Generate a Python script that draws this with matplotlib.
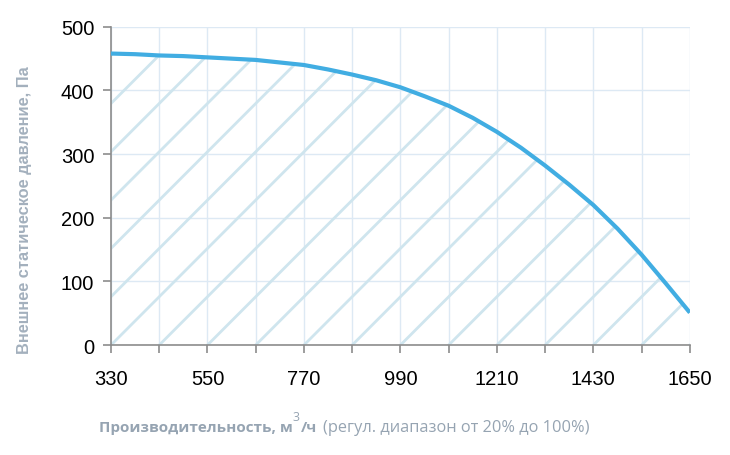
import numpy as np
import matplotlib.pyplot as plt

# данные кривой
flow = [330, 385, 440, 495, 550, 605, 660, 715, 770, 825, 880, 935, 990,
        1045, 1100, 1155, 1210, 1265, 1320, 1375, 1430, 1485, 1540, 1595, 1650]
pressure = [458, 457, 455, 454, 452, 450, 448, 444, 440, 433, 425, 416, 405,
            391, 376, 357, 335, 310, 282, 252, 220, 183, 142, 97, 51]

xticks = [330, 550, 770, 990, 1210, 1430, 1650]
yticks = [0, 100, 200, 300, 400, 500]

fig = plt.figure(figsize=(7.3, 4.56), dpi=100)
ax = fig.add_axes([0.152, 0.241, 0.793, 0.698])

ax.set_xlim(330, 1650)
ax.set_ylim(0, 500)

# сетка
ax.set_xticks(np.arange(330, 1651, 110))
ax.set_xticklabels([str(v) if v in xticks else '' for v in range(330, 1651, 110)])
ax.set_yticks(yticks)
ax.grid(True, color='#dde9f4', lw=1)
ax.set_axisbelow(True)

for s in ['top', 'right']:
    ax.spines[s].set_visible(False)
for s in ['left', 'bottom']:
    ax.spines[s].set_color('#8c8c8c')
    ax.spines[s].set_linewidth(1.2)
ax.tick_params(axis='both', colors='#8c8c8c', length=6, width=1.2, labelsize=14.5,
               labelcolor='black', pad=6)
ax.tick_params(axis='x', pad=11)
for lab in ax.get_xticklabels() + ax.get_yticklabels():
    lab.set_family('Liberation Sans')

# штриховка под кривой
poly = ax.fill_between(flow, pressure, 0, facecolor='none', edgecolor='none')
clip = poly.get_paths()[0]
slope = 0.69
xx = np.array([330, 1650])
for k in range(-8, 13):
    x0 = 330 + 110 * k
    ln, = ax.plot(xx, (xx - x0) * slope, color='#cfe5ee', lw=2, zorder=2)
    ln.set_clip_path(clip, ax.transData)

ax.plot(flow, pressure, color='#41ade2', lw=3, zorder=3,
        solid_joinstyle='round', solid_capstyle='butt')

fig.text(25 / 730, 1 - 210 / 456, 'Внешнее статическое давление, Па', color='#a3b0bd',
         fontsize=11.8, family='Liberation Sans', fontweight='bold', rotation=90,
         ha='center', va='center')

# подпись оси X по частям
col = '#96a4b2'
r = fig.canvas.get_renderer()
ybase = 1 - 432 / 456
t1 = fig.text(99 / 730, ybase, 'Производительность, м', color=col, fontsize=11,
              family='Open Sans', fontweight='bold', va='baseline')
x = t1.get_window_extent(r).x1
t2 = fig.text(x / 730, ybase + 11 / 456, '3', color=col, fontsize=9,
              family='Open Sans', va='baseline')
x = t2.get_window_extent(r).x1 + 1
t3 = fig.text(x / 730, ybase, '/ч', color=col, fontsize=11,
              family='Open Sans', fontweight='bold', va='baseline')
x = t3.get_window_extent(r).x1 + 6
fig.text(x / 730, ybase, '(регул. диапазон от 20% до 100%)', color=col, fontsize=11.8,
         family='Open Sans', va='baseline')

plt.savefig('out.png', dpi=100)
